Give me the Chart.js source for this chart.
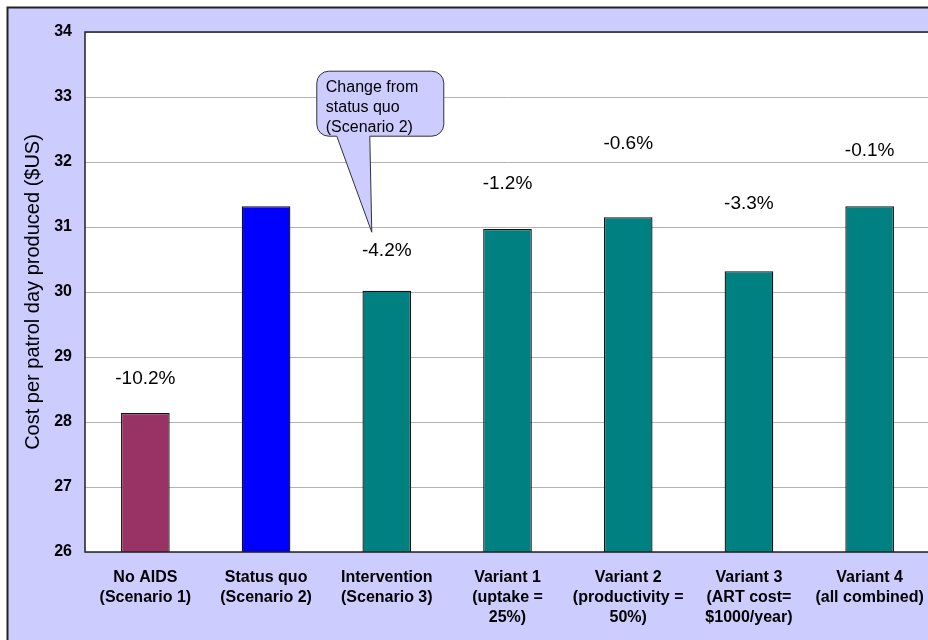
<!DOCTYPE html>
<html>
<head>
<meta charset="utf-8">
<script src="https://cdn.jsdelivr.net/npm/chart.js@4.4.0/dist/chart.umd.min.js"></script>
<style>
  html, body { margin: 0; padding: 0; overflow: hidden; background: #fff; }
  #wrap { position: relative; width: 960px; height: 640px; }
</style>
</head>
<body>
<div id="wrap"><canvas id="costChart" width="960" height="640"></canvas></div>
<script>
const categories = [
  ['No AIDS', '(Scenario 1)'],
  ['Status quo', '(Scenario 2)'],
  ['Intervention', '(Scenario 3)'],
  ['Variant 1', '(uptake =', '25%)'],
  ['Variant 2', '(productivity =', '50%)'],
  ['Variant 3', '(ART cost=', '$1000/year)'],
  ['Variant 4', '(all combined)']
];
const costPerDay = [28.14, 31.32, 30.02, 30.97, 31.15, 30.32, 31.32];
const barColors = ['#993366', '#0000ff', '#008080', '#008080', '#008080', '#008080', '#008080'];

// change vs status quo, and the height (in $US) where each label sits
const changeLabels = ['-10.2%', null, '-4.2%', '-1.2%', '-0.6%', '-3.3%', '-0.1%'];
const changeLabelAt = [28.66, null, 30.64, 31.66, 32.28, 31.35, 32.18];

const yMin = 26, yMax = 34, yStep = 1;
const yTitle = 'Cost per patrol day produced ($US)';
const calloutLines = ['Change from', 'status quo', '(Scenario 2)'];
const calloutPoint = { index: 2, value: 30.92 };

const FONT = '"Liberation Sans", Arial, sans-serif';

const backdrop = {
  id: 'backdrop',
  beforeDraw(chart) {
    const { ctx, chartArea: a } = chart;
    ctx.save();
    ctx.fillStyle = '#fff';
    ctx.fillRect(0, 0, chart.width, chart.height);
    ctx.fillStyle = '#ccccff';
    ctx.fillRect(8, 8, chart.width, chart.height);
    ctx.strokeStyle = '#222';
    ctx.lineWidth = 2;
    ctx.strokeRect(7.5, 7.5, chart.width + 20, chart.height + 20);
    ctx.fillStyle = '#fff';
    ctx.fillRect(a.left, a.top, a.right - a.left, a.bottom - a.top);
    ctx.restore();
  },
  afterDatasetsDraw(chart) {
    const { ctx, chartArea: a } = chart;
    ctx.save();
    ctx.strokeStyle = '#222';
    ctx.lineWidth = 1.5;
    ctx.strokeRect(a.left, a.top, a.right - a.left, a.bottom - a.top);
    ctx.restore();
  }
};

const annotations = {
  id: 'annotations',
  afterDraw(chart) {
    const { ctx, scales: { x, y } } = chart;
    ctx.save();
    ctx.fillStyle = '#000';
    ctx.font = '19px ' + FONT;
    ctx.textAlign = 'center';
    ctx.textBaseline = 'middle';
    changeLabels.forEach((txt, i) => {
      if (!txt) return;
      ctx.fillText(txt, x.getPixelForValue(i), y.getPixelForValue(changeLabelAt[i]));
    });

    // callout bubble
    const tx = x.getPixelForValue(calloutPoint.index) - 15;
    const ty = y.getPixelForValue(calloutPoint.value);
    const L = tx - 55, R = tx + 72, T = ty - 161, B = ty - 96, r = 12;
    const pL = tx - 35, pR = tx - 2;
    ctx.beginPath();
    ctx.moveTo(L + r, T);
    ctx.lineTo(R - r, T);
    ctx.arcTo(R, T, R, T + r, r);
    ctx.lineTo(R, B - r);
    ctx.arcTo(R, B, R - r, B, r);
    ctx.lineTo(pR, B);
    ctx.lineTo(tx, ty);
    ctx.lineTo(pL, B);
    ctx.lineTo(L + r, B);
    ctx.arcTo(L, B, L, B - r, r);
    ctx.lineTo(L, T + r);
    ctx.arcTo(L, T, L + r, T, r);
    ctx.closePath();
    ctx.fillStyle = '#ccccff';
    ctx.fill();
    ctx.strokeStyle = '#333';
    ctx.lineWidth = 1;
    ctx.stroke();

    ctx.fillStyle = '#000';
    ctx.font = '16px ' + FONT;
    ctx.textAlign = 'left';
    calloutLines.forEach((line, i) => ctx.fillText(line, L + 9, T + 16 + i * 20));
    ctx.restore();
  }
};

new Chart(document.getElementById('costChart'), {
  type: 'bar',
  data: {
    labels: categories,
    datasets: [{
      data: costPerDay,
      backgroundColor: barColors,
      borderColor: '#111',
      borderWidth: 1.3,
      borderSkipped: false,
      categoryPercentage: 1,
      barPercentage: 0.403
    }]
  },
  options: {
    responsive: false,
    devicePixelRatio: 1,
    animation: false,
    layout: { padding: { top: 32, right: 30, left: 0, bottom: 0 } },
    plugins: { legend: { display: false }, tooltip: { enabled: false } },
    scales: {
      x: {
        grid: { display: false, drawTicks: false },
        border: { display: false },
        ticks: {
          color: '#000', padding: 16, maxRotation: 0, autoSkip: false,
          font: { family: FONT, size: 16, weight: 'bold', lineHeight: 1.25 }
        },
        afterFit: s => { s.height = 88; }
      },
      y: {
        min: yMin, max: yMax,
        grid: { color: '#b3b3b3', drawTicks: false },
        border: { display: false },
        ticks: {
          stepSize: yStep, color: '#000', padding: 13,
          font: { family: FONT, size: 16, weight: 'bold' }
        },
        title: {
          display: true, text: yTitle, color: '#000',
          font: { family: FONT, size: 20 }, padding: { top: 21, bottom: 0 }
        },
        afterFit: s => { s.width = 85; }
      }
    }
  },
  plugins: [backdrop, annotations]
});
</script>
</body>
</html>
